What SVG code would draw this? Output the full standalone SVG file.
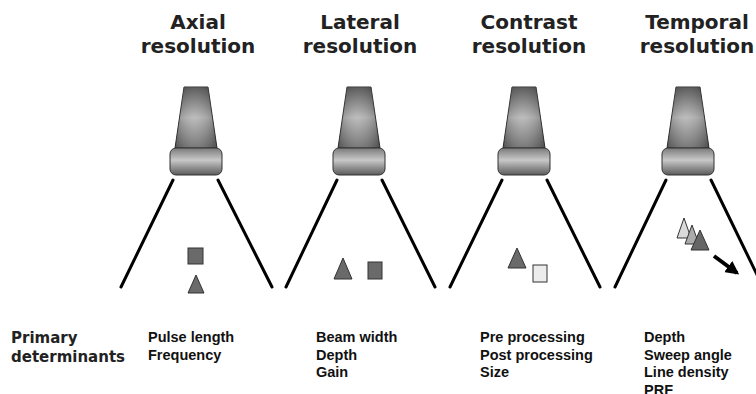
<svg xmlns="http://www.w3.org/2000/svg" width="756" height="394" viewBox="0 0 756 394">
  <defs>
    <linearGradient id="bodyGrad" x1="0" y1="0" x2="0" y2="1">
      <stop offset="0" stop-color="#4a4a4a"/>
      <stop offset="0.5" stop-color="#b5b5b5"/>
      <stop offset="1" stop-color="#6a6a6a"/>
    </linearGradient>
    <linearGradient id="bodyShade" x1="0" y1="0" x2="1" y2="0">
      <stop offset="0" stop-color="#000" stop-opacity="0.25"/>
      <stop offset="0.45" stop-color="#fff" stop-opacity="0.1"/>
      <stop offset="1" stop-color="#000" stop-opacity="0.3"/>
    </linearGradient>
    <linearGradient id="faceGrad" x1="0" y1="0" x2="0" y2="1">
      <stop offset="0" stop-color="#7a7a7a"/>
      <stop offset="0.45" stop-color="#c8c8c8"/>
      <stop offset="1" stop-color="#5a5a5a"/>
    </linearGradient>
    <marker id="arrowHead" viewBox="0 0 10 10" refX="8" refY="5" markerWidth="3.4" markerHeight="3.4" orient="auto">
      <path d="M0,0 L10,5 L0,10 z" fill="#000"/>
    </marker>
    <!-- one ultrasound probe, centred on x = 0 -->
    <g id="probe">
      <path d="M-12,87 L12,87 L21,148 L-21,148 Z" fill="url(#bodyGrad)" stroke="#333" stroke-width="1"/>
      <path d="M-12,87 L12,87 L21,148 L-21,148 Z" fill="url(#bodyShade)"/>
      <rect x="-26" y="148" width="52" height="27" rx="6" fill="url(#faceGrad)" stroke="#333" stroke-width="1"/>
    </g>
  </defs>
  <style>
    .title { font-family: "DejaVu Sans", Verdana, sans-serif; font-weight: bold; font-size: 20px; fill: #222; text-anchor: middle; }
    .side { font-family: "DejaVu Sans", Verdana, sans-serif; font-weight: bold; font-size: 15px; fill: #222; }
    .list { font-family: "Liberation Sans", Arial, sans-serif; font-weight: bold; font-size: 14.5px; fill: #111; }
    .beam { stroke: #000; stroke-width: 3; fill: none; stroke-linecap: round; }
    .target { stroke: #333; stroke-width: 1; }
  </style>

  <rect width="756" height="394" fill="#fff"/>

  <!-- beam edges -->
  <g id="connectors">
    <line class="beam" x1="173" y1="180" x2="121" y2="287"/>
    <line class="beam" x1="218" y1="180" x2="272" y2="287"/>
    <line class="beam" x1="337" y1="180" x2="286" y2="287"/>
    <line class="beam" x1="382" y1="180" x2="435" y2="287"/>
    <line class="beam" x1="502" y1="180" x2="450" y2="287"/>
    <line class="beam" x1="547" y1="180" x2="600" y2="287"/>
    <line class="beam" x1="666" y1="180" x2="615" y2="287"/>
    <line class="beam" x1="711" y1="180" x2="763" y2="287"/>
  </g>

  <g id="axial">
    <text class="title" x="198" y="29">Axial</text>
    <text class="title" x="198" y="53">resolution</text>
    <use href="#probe" x="196"/>
    <rect class="target" x="188" y="248" width="15" height="16" fill="#6a6a6a"/>
    <polygon class="target" points="196,275 204,293 188,293" fill="#6a6a6a"/>
  </g>

  <g id="lateral">
    <text class="title" x="360" y="29">Lateral</text>
    <text class="title" x="360" y="53">resolution</text>
    <use href="#probe" x="359"/>
    <polygon class="target" points="343,258 352,279 334,279" fill="#6a6a6a"/>
    <rect class="target" x="368" y="262" width="14" height="17" fill="#6a6a6a"/>
  </g>

  <g id="contrast">
    <text class="title" x="529" y="29">Contrast</text>
    <text class="title" x="529" y="53">resolution</text>
    <use href="#probe" x="524"/>
    <polygon class="target" points="517,248 526,268 508,268" fill="#6a6a6a"/>
    <rect class="target" x="533" y="265" width="14" height="17" fill="#ececec"/>
  </g>

  <g id="temporal">
    <text class="title" x="697" y="29">Temporal</text>
    <text class="title" x="697" y="53">resolution</text>
    <use href="#probe" x="688"/>
    <polygon class="target" points="684,218 691,238 677,238" fill="#dadada"/>
    <polygon class="target" points="692,225 699,244 685,244" fill="#ababab"/>
    <polygon class="target" points="700,230 709,250 691,250" fill="#666"/>
    <line x1="714" y1="256" x2="737" y2="273" stroke="#000" stroke-width="4" marker-end="url(#arrowHead)"/>
  </g>

  <g id="determinants">
    <text class="side" x="11" y="343">Primary</text>
    <text class="side" x="11" y="362">determinants</text>
    <text class="list" x="148" y="342">Pulse length</text>
    <text class="list" x="148" y="359.5">Frequency</text>
    <text class="list" x="316" y="342">Beam width</text>
    <text class="list" x="316" y="359.5">Depth</text>
    <text class="list" x="316" y="377">Gain</text>
    <text class="list" x="480" y="342">Pre processing</text>
    <text class="list" x="480" y="359.5">Post processing</text>
    <text class="list" x="480" y="377">Size</text>
    <text class="list" x="644" y="342">Depth</text>
    <text class="list" x="644" y="359.5">Sweep angle</text>
    <text class="list" x="644" y="377">Line density</text>
    <text class="list" x="644" y="394.5">PRF</text>
  </g>
</svg>
